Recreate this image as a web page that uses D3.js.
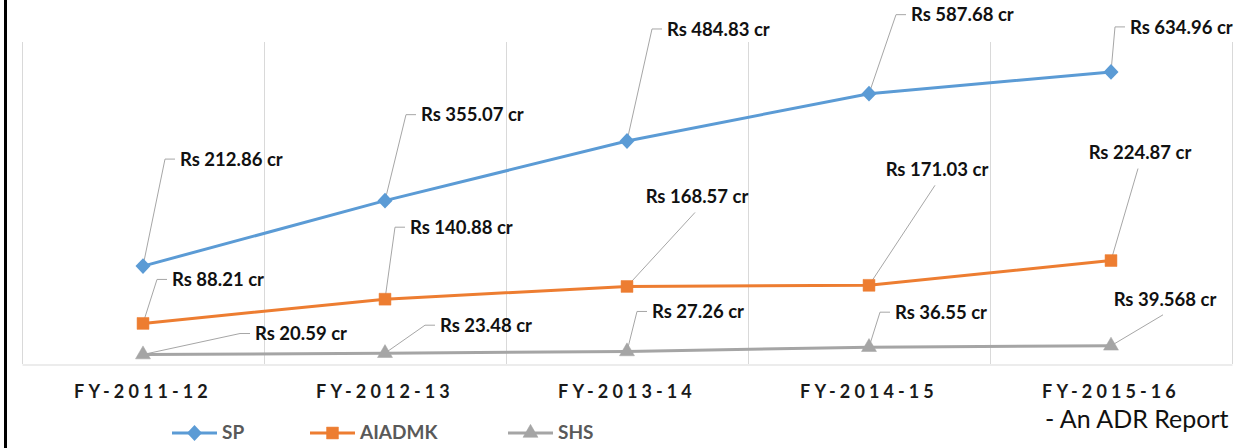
<!DOCTYPE html>
<html>
<head>
<meta charset="utf-8">
<script src="https://cdn.jsdelivr.net/npm/d3@7"></script>
<style>
  body { margin: 0; background: #fff; }
  svg { display: block; font-family: Lato, "Liberation Sans", sans-serif; }
</style>
</head>
<body>
<div id="chart"></div>
<script>
// data
const years = ['FY-2011-12', 'FY-2012-13', 'FY-2013-14', 'FY-2014-15', 'FY-2015-16']
const spValues = [212.86, 355.07, 484.83, 587.68, 634.96]
const aiadmkValues = [88.21, 140.88, 168.57, 171.03, 224.87]
const shsValues = [20.59, 23.48, 27.26, 36.55, 39.568]
const seriesNames = ['SP', 'AIADMK', 'SHS']

// where the data labels sit, relative to their point (pixels)
const labelPlace = [
  [[22, -107, 'e'], [21, -86, 'e'], [25, -112, 'e'], [27, -79, 'e'], [4, -45, 'e']],
  [[14, -44, 'e'], [10, -72, 'e'], [68, -74, 'c'], [66, -100, 'c'], [27, -92, 'c']],
  [[97, -21, 'e'], [40, -28, 'e'], [10, -40, 'e'], [11, -35, 'e'], [52, -31, 'c']]
]

const width = 1258, height = 448
const plot = { left: 22, top: 42, right: 1232, bottom: 364 }
const colors = ['#5b9bd5', '#ed7d31', '#a5a5a5']
const allSeries = [spValues, aiadmkValues, shsValues]

const svg = d3.select('#chart').append('svg')
  .attr('width', width)
  .attr('height', height)

const xBand = d3.scaleBand().domain(years).range([plot.left, plot.right])
const x = d => xBand(d) + xBand.bandwidth() / 2
const y = d3.scaleLinear().domain([0, 700]).range([plot.bottom, plot.top])

// left frame edge
svg.append('line')
  .attr('x1', 5.5).attr('x2', 5.5)
  .attr('y1', 0).attr('y2', height)
  .attr('stroke', '#000').attr('stroke-width', 3)

// vertical grid at category borders
const borders = years.map(d => xBand(d)).concat([plot.right])
svg.append('g').selectAll('line')
  .data(borders)
  .enter().append('line')
  .attr('x1', d => Math.round(d) + 0.5).attr('x2', d => Math.round(d) + 0.5)
  .attr('y1', plot.top).attr('y2', plot.bottom)
  .attr('stroke', '#d9d9d9')

// x axis
const xAxis = d3.axisBottom(xBand).tickSize(0).tickPadding(21)
const gx = svg.append('g')
  .attr('transform', `translate(0, ${plot.bottom + 0.5})`)
  .call(xAxis)
gx.select('.domain').attr('stroke', '#d9d9d9')
gx.selectAll('text')
  .attr('font-family', 'Lato, sans-serif')
  .attr('font-size', 18)
  .attr('font-weight', 'bold')
  .attr('fill', '#1a1a1a')
  .style('letter-spacing', '4.1px')

// lines
const line = d3.line()
  .x((d, i) => x(years[i]))
  .y(d => y(d))

allSeries.forEach((vals, s) => {
  svg.append('path')
    .datum(vals)
    .attr('d', line)
    .attr('fill', 'none')
    .attr('stroke', colors[s])
    .attr('stroke-width', 3)
})

// leader lines + labels
allSeries.forEach((vals, s) => {
  const g = svg.append('g')
  vals.forEach((v, i) => {
    const px = x(years[i]), py = y(v)
    const [dx, dy, kind] = labelPlace[s][i]
    const ex = px + dx, ey = py + dy
    const txt = 'Rs ' + v + ' cr'
    if (kind === 'e') {
      g.append('polyline')
        .attr('points', `${px},${py} ${ex},${ey} ${ex + 10},${ey}`)
        .attr('fill', 'none')
        .attr('stroke', '#a6a6a6')
      g.append('text')
        .attr('x', ex + 15).attr('y', ey + 2)
        .attr('dominant-baseline', 'middle')
        .attr('font-size', 18.5).attr('font-weight', 'bold')
        .attr('fill', '#111')
        .text(txt)
    } else {
      g.append('line')
        .attr('x1', px).attr('y1', py).attr('x2', ex).attr('y2', ey)
        .attr('stroke', '#a6a6a6')
      g.append('text')
        .attr('x', ex + 2).attr('y', ey - 14)
        .attr('dominant-baseline', 'middle')
        .attr('text-anchor', 'middle')
        .attr('font-size', 18.5).attr('font-weight', 'bold')
        .attr('fill', '#111')
        .text(txt)
    }
  })
})

// markers
const markerPath = [
  d3.symbol(d3.symbolDiamond2, 160)(),
  d3.symbol(d3.symbolSquare2, 180)(),
  d3.symbol(d3.symbolTriangle2, 160)()
]
function drawMarker(sel, s, cx, cy) {
  sel.append('path')
    .attr('d', markerPath[s])
    .attr('transform', `translate(${cx}, ${cy})` + (s === 0 ? ' scale(0.95,1)' : ''))
    .attr('fill', colors[s])
    .attr('stroke', colors[s])
    .attr('stroke-width', s === 0 ? 0 : 0.5)
}
allSeries.forEach((vals, s) => {
  const g = svg.append('g')
  vals.forEach((v, i) => drawMarker(g, s, x(years[i]), y(v)))
})

// legend
const legendX = [172, 310, 508]
const legend = svg.append('g')
seriesNames.forEach((name, s) => {
  const lx = legendX[s], ly = 433
  legend.append('line')
    .attr('x1', lx).attr('x2', lx + 45)
    .attr('y1', ly).attr('y2', ly)
    .attr('stroke', colors[s]).attr('stroke-width', 3)
  drawMarker(legend, s, lx + 22.5, ly)
  legend.append('text')
    .attr('x', lx + 50).attr('y', ly + 1)
    .attr('dominant-baseline', 'middle')
    .attr('font-size', 19).attr('font-weight', 'bold')
    .attr('fill', '#595959')
    .text(name)
})

// source note
svg.append('text')
  .attr('x', 1045).attr('y', 422)
  .attr('dominant-baseline', 'middle')
  .attr('font-size', 25)
  .attr('fill', '#111')
  .text('- An ADR Report')
</script>
</body>
</html>
